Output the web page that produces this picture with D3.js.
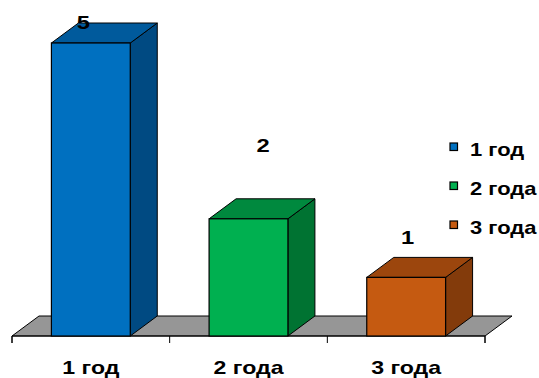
<!DOCTYPE html>
<html><head><meta charset="utf-8">
<script src="https://cdn.jsdelivr.net/npm/d3@7"></script>
<style>body{margin:0;background:#fff}svg{display:block}text{font-family:"Liberation Sans",Arial,sans-serif;font-weight:bold}</style>
</head><body>
<svg id="c" width="539" height="378"></svg>
<script>
const categories = ["1 год", "2 года", "3 года"];
const values = [5, 2, 1];
const legendLabels = ["1 год", "2 года", "3 года"];
const frontColors = ["#0070C0", "#00B050", "#C55A11"];
const topColors = ["#005A9C", "#00893E", "#9C460D"];
const sideColors = ["#004A82", "#007332", "#833B0B"];
// label layout offsets (px) — layout only
const labelDx = [-21, 1, -12];

const svg = d3.select("#c");
const x0 = 12, x1 = 485, baseY = 336, topY = 43;
const dX = 27, dY = -20;
const SX = 1.25;

const x = d3.scaleBand().domain(categories).range([x0, x1]).padding(0);
const y = d3.scaleLinear().domain([0, 5]).range([baseY, topY]);
const bw = x.bandwidth() * 0.5;
const labelY = d3.scaleLinear().domain([0, 1]).range([329, 237]);

function stext(g, tx, ty, s, size, anchor, sx) {
  return g.append("text").attr("transform", `translate(${tx},${ty}) scale(${sx},1)`)
    .attr("text-anchor", anchor).attr("font-size", size).attr("fill", "#000").text(s);
}

// floor
svg.append("path")
  .attr("d", `M${x0},${baseY}L${x1},${baseY}L${x1+dX},${baseY+dY}L${x0+dX},${baseY+dY}Z`)
  .attr("fill", "#969696").attr("stroke", "#000").attr("stroke-width", 1);

// axis
const axis = d3.axisBottom(x).tickSize(7).tickFormat("");
const ag = svg.append("g").attr("transform", `translate(0,${baseY})`).call(axis);
ag.select(".domain").attr("d", `M${x0},7V0H${x1}V7`).attr("stroke", "#000");
ag.selectAll(".tick").remove();
[x0, ...categories.map(c => x(c) + x.bandwidth())].forEach(t => {
  ag.append("line").attr("x1", t).attr("x2", t).attr("y1", 0).attr("y2", 7).attr("stroke", "#000");
});
categories.forEach(c => {
  stext(svg, x(c) + x.bandwidth() / 2, 373.5, c, 18.5, "middle", SX);
});

// bars
const bars = svg.selectAll("g.bar").data(values).join("g").attr("class", "bar");
bars.each(function (v, i) {
  const g = d3.select(this);
  const bx = x(categories[i]) + (x.bandwidth() - bw) / 2;
  const ty = y(v);
  g.append("path")
    .attr("d", `M${bx+bw},${baseY}L${bx+bw+dX},${baseY+dY}L${bx+bw+dX},${ty+dY}L${bx+bw},${ty}Z`)
    .attr("fill", sideColors[i]).attr("stroke", "#000").attr("stroke-width", 1).attr("stroke-linejoin", "round");
  g.append("path")
    .attr("d", `M${bx},${ty}L${bx+dX},${ty+dY}L${bx+bw+dX},${ty+dY}L${bx+bw},${ty}Z`)
    .attr("fill", topColors[i]).attr("stroke", "#000").attr("stroke-width", 1).attr("stroke-linejoin", "round");
  g.append("rect").attr("x", bx).attr("y", ty).attr("width", bw).attr("height", baseY - ty)
    .attr("fill", frontColors[i]).attr("stroke", "#000").attr("stroke-width", 1.2);
  const ly = Math.max(22, labelY(v));
  stext(g, bx + bw / 2 + dX / 2 + labelDx[i], ly + 7, v, 19, "middle", SX);
});

// legend
const lg = svg.append("g");
legendLabels.forEach((l, i) => {
  const ly = 156 + i * 39;
  lg.append("rect").attr("x", 450).attr("y", ly - 13).attr("width", 7.5).attr("height", 7.5)
    .attr("fill", frontColors[i]).attr("stroke", "#000").attr("stroke-width", 1.2);
  stext(lg, 470, ly, l, 18, "start", 1.22);
});
</script>
</body></html>
